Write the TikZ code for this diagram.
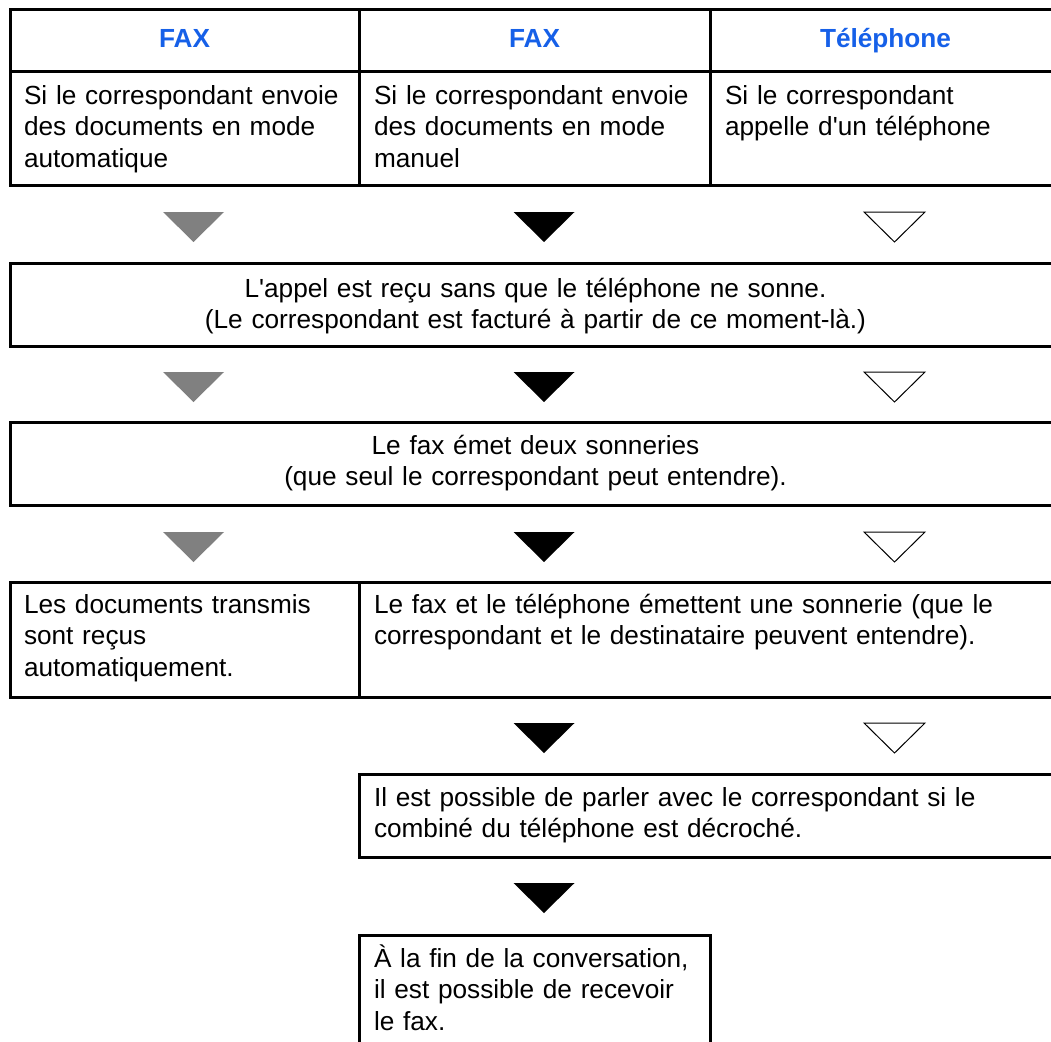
\documentclass[tikz,border=0pt]{standalone}
\usepackage{fontspec}
\setmainfont{Liberation Sans}[Ligatures=TeXOff]
\usetikzlibrary{positioning}
\definecolor{headblue}{RGB}{22,96,232}
\definecolor{trigray}{RGB}{128,128,128}
\newcommand\flowfont{\fontsize{26.2pt}{31.5pt}\selectfont}

\begin{document}
\begin{tikzpicture}[
    x=1pt, y=-1pt,
    font=\flowfont,
    flowbox/.style={draw, line width=3pt, outer sep=0pt, inner xsep=15pt, inner ysep=0pt, anchor=north west, align=left},
    headcell/.style={flowbox, inner xsep=0pt, align=center, minimum height=61pt, text height=19pt, text depth=4pt, font=\flowfont\bfseries, text=headblue},
    tgray/.style={fill=trigray},
    tblack/.style={fill=black},
    twhite/.style={draw=black, line width=1pt, fill=white},
    downtri/.pic={\path[pic actions] (-30.5,0) -- (30.5,0) -- (0,30) -- cycle;},
  ]
    \useasboundingbox (0,0) rectangle (1051,1041);

    % header row
    \node[headcell, minimum width=349pt] (hA) at (10,10) {FAX};
    \node[headcell, minimum width=351pt, right=0pt of hA] (hB) {FAX};
    \node[headcell, minimum width=351pt, right=0pt of hB] (hC) {Téléphone};

    % caller cases
    \node[flowbox, inner xsep=14pt, text width=321pt, text height=33pt, text depth=81pt, below=0pt of hA] (bA) {Si le correspondant envoie\\des documents en mode\\automatique};
    \node[flowbox, text width=321pt, text height=33pt, text depth=81pt, right=0pt of bA] (bB) {Si le correspondant envoie\\des documents en mode\\manuel};
    \node[flowbox, text width=321pt, text height=33pt, text depth=81pt, right=0pt of bB] (bC) {Si le correspondant\\appelle d'un téléphone};

    % steps
    \node[flowbox, align=center, text width=1021pt, text height=34pt, text depth=49pt, below right=78pt and 0pt of bA.south west] (appel) {L'appel est reçu sans que le téléphone ne sonne.\\(Le correspondant est facturé à partir de ce moment-là.)};
    \node[flowbox, align=center, text width=1021pt, text height=32pt, text depth=51pt, below right=76pt and 0pt of appel.south west] (deuxson) {Le fax émet deux sonneries\\(que seul le correspondant peut entendre).};
    \node[flowbox, inner xsep=14pt, text width=321pt, text height=31pt, text depth=84pt, below right=77pt and 0pt of deuxson.south west] (recu) {Les documents transmis\\sont reçus\\automatiquement.};
    \node[flowbox, text width=672pt, text height=31pt, text depth=84pt, right=0pt of recu] (sonnerie) {Le fax et le téléphone émettent une sonnerie (que le\\correspondant et le destinataire peuvent entendre).};
    \node[flowbox, text width=672pt, text height=32pt, text depth=51pt, below right=77pt and 0pt of sonnerie.south west] (parler) {Il est possible de parler avec le correspondant si le\\combiné du téléphone est décroché.};
    \node[flowbox, text width=321pt, text height=32pt, text depth=98pt, below right=78pt and 0pt of parler.south west] (fin) {À la fin de la conversation,\\il est possible de recevoir\\le fax.};

    % arrow heads
    \foreach \ty in {212,372,532}{
      \pic[tgray] at (193.5,\ty) {downtri};
      \pic[tblack] at (544,\ty) {downtri};
      \pic[twhite] at (894.5,\ty) {downtri};
    }
    \pic[tblack] at (544,723) {downtri};
    \pic[twhite] at (894.5,723) {downtri};
    \pic[tblack] at (544,883) {downtri};
  \end{tikzpicture}
\end{document}
